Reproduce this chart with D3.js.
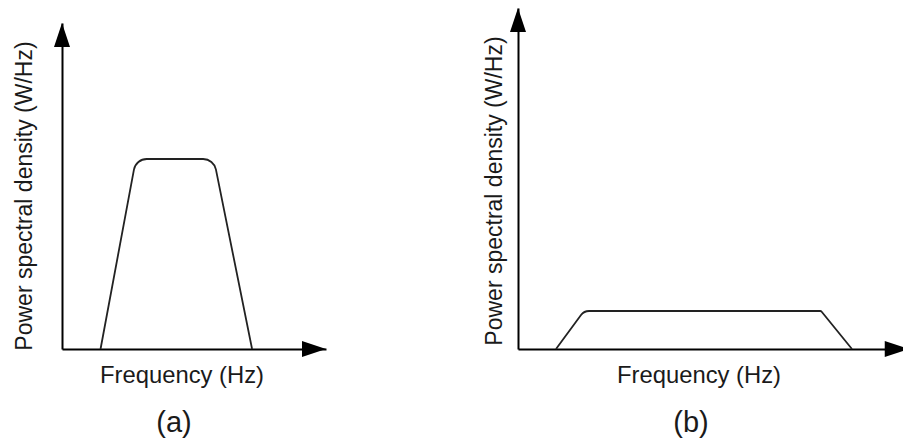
<!DOCTYPE html>
<html>
<head>
<meta charset="utf-8">
<script src="https://cdn.jsdelivr.net/npm/d3@7"></script>
<style>
  html, body { margin: 0; padding: 0; background: #fff; }
  svg { display: block; }
  text { font-family: "Liberation Sans", Arial, Helvetica, sans-serif; fill: #1a1a1a; }
</style>
</head>
<body>
<svg id="chart" width="903" height="445"></svg>
<script>
// ---------- data ----------
const panels = ["(a)", "(b)"];
const xAxisTitle = "Frequency (Hz)";
const yAxisTitle = "Power spectral density (W/Hz)";
// trapezoid spectra: foot, shoulder, shoulder, foot (frequency units)
const freqA = [14.6, 28.0, 57.5, 72.0];
const psdA  = [0, 1.0, 1.0, 0];
const freqB = [14.4, 25.0, 114.8, 126.5];
const psdB  = [0, 0.2, 0.2, 0];
const cornerA = [13, 13];
const cornerB = [10, 2];
// axis extents (frequency / psd units)
const xMaxA = 100, xMaxB = 148;
const yMaxA = 1.716, yMaxB = 1.795;

// ---------- layout ----------
const svg = d3.select("#chart");
const layout = [
  { x0: 62, pxPerUnit: 2.64, y0: 349, yPx: 190, xMax: xMaxA, yMax: yMaxA,
    f: freqA, p: psdA, r: cornerA, ylabX: 32, ylabY: 196, xlabX: 182, capX: 174 },
  { x0: 518, pxPerUnit: 2.64, y0: 349, yPx: 190, xMax: xMaxB, yMax: yMaxB,
    f: freqB, p: psdB, r: cornerB, ylabX: 502, ylabY: 191, xlabX: 699, capX: 691 }
];

layout.forEach((L, i) => {
  const g = svg.append("g");
  const x = d3.scaleLinear().domain([0, L.xMax]).range([L.x0, L.x0 + L.xMax * L.pxPerUnit]);
  const y = d3.scaleLinear().domain([0, L.yMax]).range([L.y0, L.y0 - L.yMax * L.yPx]);
  const xEnd = x(L.xMax), yEnd = y(L.yMax);

  // axes (domain lines only)
  const ax = g.append("g").attr("transform", `translate(0,${L.y0})`)
    .call(d3.axisBottom(x).tickValues([]).tickSizeOuter(0));
  ax.select(".domain").attr("stroke", "#000").attr("stroke-width", 2);
  const ay = g.append("g").attr("transform", `translate(${L.x0},0)`)
    .call(d3.axisLeft(y).tickValues([]).tickSizeOuter(0));
  ay.select(".domain").attr("stroke", "#000").attr("stroke-width", 2);

  // arrowheads
  const ah = 24, aw = 8;
  g.append("path")
    .attr("d", `M${xEnd},${L.y0} L${xEnd - ah},${L.y0 - aw} L${xEnd - ah},${L.y0 + aw} Z`)
    .attr("fill", "#000");
  g.append("path")
    .attr("d", `M${L.x0},${yEnd} L${L.x0 - aw},${yEnd + ah} L${L.x0 + aw},${yEnd + ah} Z`)
    .attr("fill", "#000");

  // spectrum trapezoid with rounded shoulders
  const pts = L.f.map((f, k) => [x(f), y(L.p[k])]);
  const p = d3.path();
  p.moveTo(pts[0][0], pts[0][1]);
  p.arcTo(pts[1][0], pts[1][1], pts[2][0], pts[2][1], L.r[0]);
  p.arcTo(pts[2][0], pts[2][1], pts[3][0], pts[3][1], L.r[1]);
  p.lineTo(pts[3][0], pts[3][1]);
  g.append("path").attr("d", p.toString())
    .attr("fill", "none").attr("stroke", "#222").attr("stroke-width", 1.8)
    .attr("stroke-linejoin", "round");

  // texts
  g.append("text")
    .attr("transform", `translate(${L.ylabX},${L.ylabY}) rotate(-90)`)
    .attr("text-anchor", "middle")
    .attr("font-size", 23)
    .text(yAxisTitle);
  g.append("text")
    .attr("x", L.xlabX).attr("y", 383)
    .attr("text-anchor", "middle")
    .attr("font-size", 23.8)
    .text(xAxisTitle);
  g.append("text")
    .attr("x", L.capX).attr("y", 432)
    .attr("text-anchor", "middle")
    .attr("font-size", 29)
    .text(panels[i]);
});
</script>
</body>
</html>
